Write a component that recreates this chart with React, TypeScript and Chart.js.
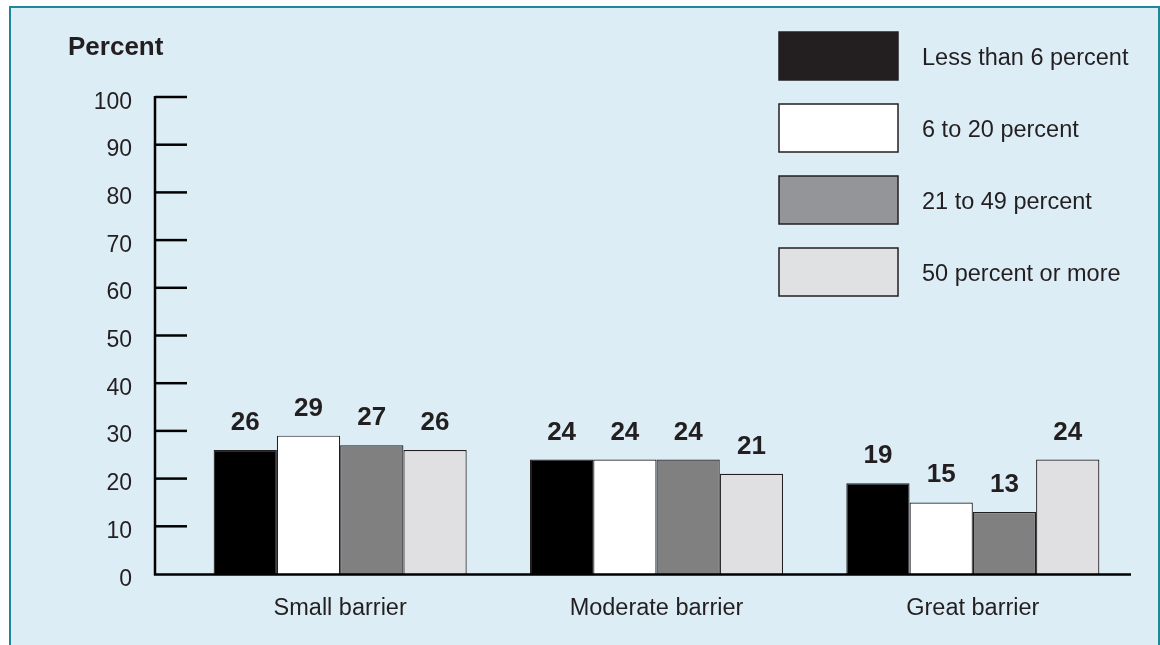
import React, { useEffect, useRef } from "react";
import { Chart, registerables } from "chart.js";

Chart.register(...registerables);

const categories = ["Small barrier", "Moderate barrier", "Great barrier"];
const seriesNames = ["Less than 6 percent", "6 to 20 percent", "21 to 49 percent", "50 percent or more"];
const lessThan6 = [26, 24, 19];
const sixTo20 = [29, 24, 15];
const twentyOneTo49 = [27, 24, 13];
const fiftyOrMore = [26, 21, 24];
const yTicks = [0, 10, 20, 30, 40, 50, 60, 70, 80, 90, 100];
const yTitle = "Percent";

const barColors = ["#000000", "#ffffff", "#808080", "#e0e0e2"];
const legendColors = ["#231f20", "#ffffff", "#939598", "#e0e1e3"];
const INK = "#231f20";
const FONT = "'Liberation Sans', Arial, Helvetica, sans-serif";

const overlayPlugin = {
  id: "overlay",
  afterDatasetsDraw(chart: any) {
    const ctx = chart.ctx;
    const xs = chart.scales.x;
    const ys = chart.scales.y;
    const y0 = ys.getPixelForValue(0);
    const yTop = ys.getPixelForValue(100);
    const axisX = xs.left - 27;
    ctx.save();

    // data labels
    ctx.fillStyle = INK;
    ctx.font = `bold 26px ${FONT}`;
    ctx.textAlign = "center";
    ctx.textBaseline = "alphabetic";
    chart.data.datasets.forEach((ds: any, i: number) => {
      const meta = chart.getDatasetMeta(i);
      meta.data.forEach((bar: any, j: number) => {
        ctx.fillText(String(ds.data[j]), bar.x, bar.y - 20);
      });
    });

    // axes
    ctx.strokeStyle = "#000000";
    ctx.lineWidth = 2.5;
    ctx.beginPath();
    ctx.moveTo(axisX, yTop - 1);
    ctx.lineTo(axisX, y0 + 1.5);
    ctx.moveTo(axisX - 1, y0 + 0.5);
    ctx.lineTo(xs.right, y0 + 0.5);
    ctx.stroke();

    // y ticks and labels
    ctx.font = `23px ${FONT}`;
    ctx.textAlign = "right";
    yTicks.forEach((t) => {
      const py = ys.getPixelForValue(t);
      if (t > 0) {
        ctx.beginPath();
        ctx.moveTo(axisX, py);
        ctx.lineTo(axisX + 32, py);
        ctx.stroke();
      }
      ctx.fillText(String(t), axisX - 23, py + 11.5);
    });

    // category labels
    ctx.font = `23.5px ${FONT}`;
    ctx.textAlign = "center";
    categories.forEach((c, i) => {
      ctx.fillText(c, xs.getPixelForValue(i), y0 + 41);
    });

    // y title
    ctx.font = `bold 26px ${FONT}`;
    ctx.textAlign = "left";
    ctx.fillText(yTitle, 68, 55);

    // legend
    ctx.font = `23.5px ${FONT}`;
    seriesNames.forEach((name, i) => {
      const top = 32 + i * 72;
      ctx.fillStyle = legendColors[i];
      ctx.fillRect(779, top, 119, 48);
      ctx.strokeStyle = INK;
      ctx.lineWidth = 1.5;
      ctx.strokeRect(779, top, 119, 48);
      ctx.fillStyle = INK;
      ctx.fillText(name, 922, top + 32.5);
    });

    ctx.restore();
  },
};

export default function App() {
  const ref = useRef<HTMLCanvasElement | null>(null);

  useEffect(() => {
    if (!ref.current) return;
    const seriesValues = [lessThan6, sixTo20, twentyOneTo49, fiftyOrMore];
    const chart = new Chart(ref.current, {
      type: "bar",
      data: {
        labels: categories,
        datasets: seriesNames.map((name, i) => ({
          label: name,
          data: seriesValues[i],
          backgroundColor: barColors[i],
          borderColor: INK,
          borderWidth: 1.2,
          categoryPercentage: 0.8,
          barPercentage: 1.0,
        })),
      },
      options: {
        animation: false,
        responsive: false,
        devicePixelRatio: 1,
        layout: { padding: { left: 182, right: 29, top: 97, bottom: 71 } },
        plugins: {
          legend: { display: false },
          tooltip: { enabled: false },
          title: { display: false },
        },
        scales: {
          x: { display: false },
          y: { display: false, min: 0, max: 100 },
        },
      },
      plugins: [overlayPlugin],
    });
    return () => chart.destroy();
  }, []);

  return (
    <div style={{ position: "absolute", left: 0, top: 0, width: 1160, height: 645, overflow: "hidden", background: "#ffffff" }}>
      <div
        style={{
          position: "absolute",
          left: 9,
          top: 6,
          width: 1151,
          height: 700,
          boxSizing: "border-box",
          border: "2.5px solid #1e8799",
          background: "#ddedf6",
        }}
      />
      <canvas ref={ref} width={1160} height={645} style={{ position: "absolute", left: 0, top: 0, width: 1160, height: 645 }} />
    </div>
  );
}
